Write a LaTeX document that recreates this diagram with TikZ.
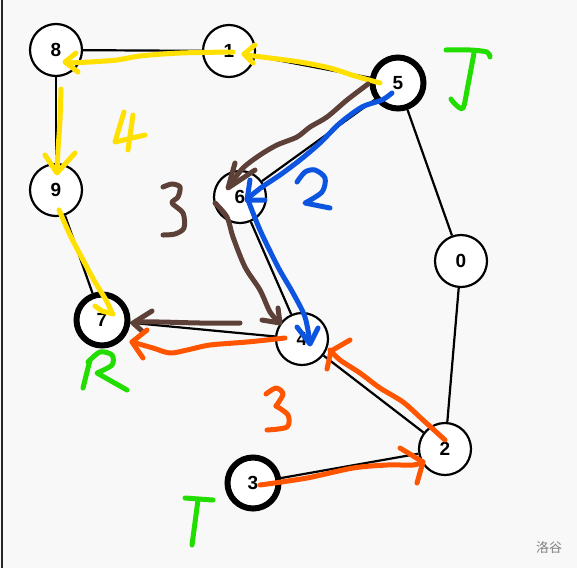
\documentclass[tikz,border=0pt]{standalone}
\usepackage{fontspec}
\setmainfont{Liberation Sans}
\newfontfamily\cjkfont{Noto Sans CJK SC}
\definecolor{bgc}{HTML}{F8F8F8}
\definecolor{yel}{HTML}{FFE000}
\definecolor{brn}{HTML}{5D4037}
\definecolor{blu}{HTML}{0D55E0}
\definecolor{org}{HTML}{FF5500}
\definecolor{grn}{HTML}{22DD00}
\begin{document}
\begin{tikzpicture}[x=1pt,y=-1pt,
  vtx/.style={circle,draw=black,fill=white,line width=2.2pt,minimum size=52pt,inner sep=0pt,font=\fontsize{19}{19}\selectfont\bfseries},
  hvtx/.style={vtx,line width=6pt,minimum size=51pt},
  edge/.style={draw=black,line width=2.2pt},
  pen/.style={line width=5pt,line cap=round,line join=round},
  penY/.style={pen,draw=yel},
  penB/.style={pen,draw=brn},
  penU/.style={pen,draw=blu},
  penO/.style={pen,draw=org},
  penG/.style={pen,draw=grn}]
\useasboundingbox (0,0) rectangle (577,568);
\fill[bgc] (0,0) rectangle (577,568);
\draw[line width=1.5pt,black!85] (2,0) -- (2,568);
% nodes (placed first so that edges can refer to them)
\node[vtx]  (n8) at (56,50)   {8};
\node[vtx]  (n1) at (229,51)  {1};
\node[hvtx] (n5) at (398,83)  {5};
\node[vtx]  (n9) at (56,190)  {9};
\node[vtx]  (n6) at (240,197) {6};
\node[vtx]  (n0) at (461,261) {0};
\node[hvtx] (n7) at (102,320) {7};
\node[vtx]  (n4) at (302,339) {4};
\node[vtx]  (n2) at (445,449) {2};
\node[hvtx] (n3) at (253,483) {3};
% edges
\path[edge] (n8) -- (n1);
\path[edge] (n8) -- (n9);
\path[edge] (n1) -- (n5);
\path[edge] (n5) -- (n6);
\path[edge] (n5) -- (n0);
\path[edge] (n9) -- (n7);
\path[edge] (n6) -- (n4);
\path[edge] (n7) -- (n4);
\path[edge] (n4) -- (n2);
\path[edge] (n0) -- (n2);
\path[edge] (n3) -- (n2);
% yellow
\draw[penY] plot[smooth] coordinates {(380,83) (355,76) (330,68) (300,62) (270,58) (246,55)};
\draw[penY] (255,45) -- (244,54) -- (253,63);
\draw[penY] plot[smooth] coordinates {(233,52) (180,53) (140,56) (117,60) (90,62) (67,63)};
\draw[penY] (76,53) -- (65,62) -- (78,72);
\draw[penY] plot[smooth] coordinates {(61,89) (60,120) (58,150) (57,172)};
\draw[penY] (45,155) -- (57,173) -- (75,153);
\draw[penY] plot[smooth] coordinates {(59,210) (70,235) (82,258) (95,282) (106,300) (112,313)};
\draw[penY] (95,306) -- (102,311) -- (113,314);
\draw[penY] (124,112) -- (115,142) -- (145,135);
\draw[penY] (133,115) -- (128,150);
% brown
\draw[penB] plot[smooth] coordinates {(368,84) (347,100) (327,117) (310,127) (297,137) (277,145) (260,155) (243,168) (230,185)};
\draw[penB] (235,163) -- (228,188) -- (255,170);
\draw[penB] plot[smooth] coordinates {(215,203) (227,217) (233,237) (245,267) (260,290) (270,312) (279,322)};
\draw[penB] (262,320) -- (280,323) -- (278,308);
\draw[penB] plot[smooth] coordinates {(240,323) (200,323) (160,322) (135,322)};
\draw[penB] (152,311) -- (133,323) -- (142,331);
\draw[penB] plot[smooth] coordinates {(163,187) (172,184) (180,187) (178,197) (172,203) (183,213) (184,228) (175,234) (163,235)};
% blue
\draw[penU] plot[smooth] coordinates {(392,93) (382,100) (362,107) (340,123) (320,143) (300,160) (280,175) (262,187) (248,198)};
\draw[penU] (250,180) -- (247,200) -- (265,200);
\draw[penU] plot[smooth] coordinates {(248,200) (260,230) (278,267) (293,293) (305,317) (310,343)};
\draw[penU] (297,327) -- (310,344) -- (318,328);
\draw[penU] plot[smooth] coordinates {(297,182) (305,172) (315,170) (325,178) (322,192) (305,203)} -- (330,208);
% orange
\draw[penO] plot[smooth] coordinates {(260,485) (307,478) (353,468) (387,465) (413,465) (423,462)};
\draw[penO] (400,448) -- (423,462) -- (417,483);
\draw[penO] plot[smooth] coordinates {(445,440) (423,420) (403,402) (380,388) (360,373) (340,360) (330,350)};
\draw[penO] (350,340) -- (331,351) -- (327,369);
\draw[penO] plot[smooth] coordinates {(285,338) (247,342) (210,345) (187,350) (170,353) (153,348) (132,342)};
\draw[penO] (147,330) -- (132,342) -- (143,358);
\draw[penO] plot[smooth] coordinates {(266,394) (276,388) (283,394) (276,406)};
\draw[penO] plot[smooth] coordinates {(276,406) (288,415) (287,427) (267,430)};
% green
\draw[penG] plot[smooth] coordinates {(446,50) (470,50) (487,52) (490,57)};
\draw[penG] plot[smooth] coordinates {(474,53) (468,85) (463,108) (455,104) (451,99)};
\draw[penG] (90,360) -- (83,388);
\draw[penG] plot[smooth] coordinates {(88,362) (100,352) (112,355) (112,365) (97,373)} -- (127,390);
\draw[penG] (185,498) -- (213,500);
\draw[penG] (198,500) -- (192,545);
% watermark
\node[text=black!50,font=\cjkfont\fontsize{13}{13}\selectfont] (wm) at (549,548) {洛谷};
\end{tikzpicture}
\end{document}
